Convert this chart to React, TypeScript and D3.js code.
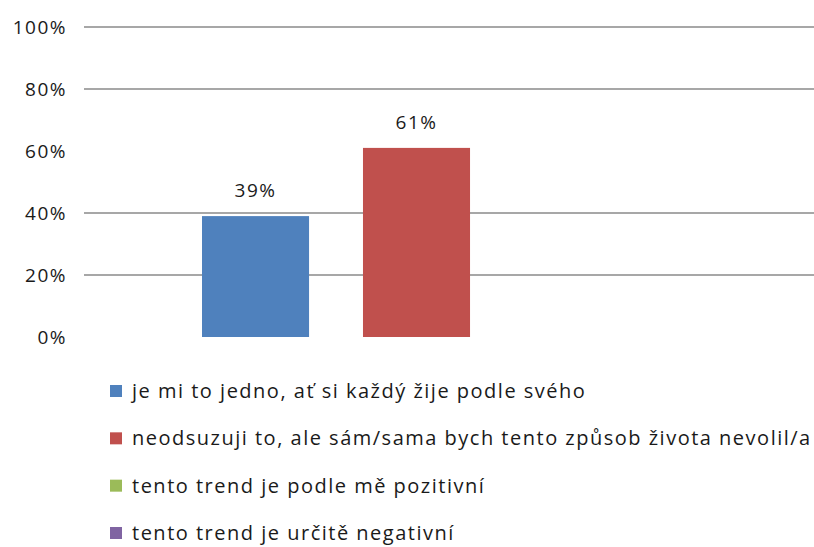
import { useEffect, useRef } from "react";
import * as d3 from "d3";

// data
const series = [
  "je mi to jedno, ať si každý žije podle svého",
  "neodsuzuji to, ale sám/sama bych tento způsob života nevolil/a",
  "tento trend je podle mě pozitivní",
  "tento trend je určitě negativní",
];
const values = [0.39, 0.61, 0, 0];
const colors = ["#4f81bd", "#c0504d", "#9bbb59", "#8064a2"];
const yTicks = [0, 0.2, 0.4, 0.6, 0.8, 1];
// gridlines visible in the reference (60% and 0% lines are not drawn there)
const gridTicks = [0.2, 0.4, 0.8, 1];

export default function App() {
  const ref = useRef<SVGSVGElement>(null);

  useEffect(() => {
    const width = 814;
    const height = 547;
    const marginLeft = 84;
    const plotTop = 27;
    const plotBottom = 337;
    const font = "'Open Sans', 'DejaVu Sans', sans-serif";

    const svg = d3.select(ref.current);
    svg.selectAll("*").remove();
    svg.attr("width", width).attr("height", height).attr("viewBox", [0, 0, width, height].join(" "));

    svg.append("rect").attr("width", width).attr("height", height).attr("fill", "#fff");

    const y = d3.scaleLinear().domain([0, 1]).range([plotBottom, plotTop]);

    // series sit side by side in one category; plot area runs past the crop
    const x = d3.scaleBand<string>()
      .domain(series)
      .range([marginLeft, 910])
      .paddingInner(0.335)
      .paddingOuter(0.733);

    // gridlines
    svg.append("g")
      .selectAll("line")
      .data(gridTicks)
      .join("line")
      .attr("x1", marginLeft)
      .attr("x2", width)
      .attr("y1", d => y(d))
      .attr("y2", d => y(d))
      .attr("stroke", "#8a8a8a")
      .attr("stroke-width", 1.5);

    // y tick labels
    svg.append("g")
      .selectAll("text")
      .data(yTicks)
      .join("text")
      .attr("x", 67)
      .attr("y", d => y(d))
      .attr("dy", "0.35em")
      .attr("text-anchor", "end")
      .attr("font-family", font)
      .attr("font-size", 19)
      .attr("letter-spacing", 1.5)
      .attr("fill", "#1a1a1a")
      .text(d => d3.format(".0%")(d));

    const shown = series.map((s, i) => ({ s, v: values[i], c: colors[i] })).filter(d => d.v > 0);

    // bars
    svg.append("g")
      .selectAll("rect")
      .data(shown)
      .join("rect")
      .attr("x", d => x(d.s)!)
      .attr("y", d => y(d.v))
      .attr("width", x.bandwidth())
      .attr("height", d => y(0) - y(d.v))
      .attr("fill", d => d.c);

    // value labels
    svg.append("g")
      .selectAll("text")
      .data(shown)
      .join("text")
      .attr("x", d => x(d.s)! + x.bandwidth() / 2)
      .attr("y", d => y(d.v) - 19)
      .attr("text-anchor", "middle")
      .attr("font-family", font)
      .attr("font-size", 19)
      .attr("letter-spacing", 1.5)
      .attr("fill", "#1a1a1a")
      .text(d => d3.format(".0%")(d.v));

    // legend
    const legendY = d3.scalePoint<string>().domain(series).range([391, 533]);
    const legend = svg.append("g")
      .selectAll("g")
      .data(series)
      .join("g")
      .attr("transform", d => `translate(110,${legendY(d)})`);
    legend.append("rect")
      .attr("x", 0)
      .attr("y", -6)
      .attr("width", 12)
      .attr("height", 12)
      .attr("fill", (_, i) => colors[i]);
    legend.append("text")
      .attr("x", 22)
      .attr("dy", "0.35em")
      .attr("font-family", font)
      .attr("font-size", 20)
      .attr("letter-spacing", 1.5)
      .attr("fill", "#1a1a1a")
      .text(d => d);
  }, []);

  return (
    <svg
      ref={ref}
      style={{ position: "absolute", left: 0, top: 0, display: "block" }}
    />
  );
}
